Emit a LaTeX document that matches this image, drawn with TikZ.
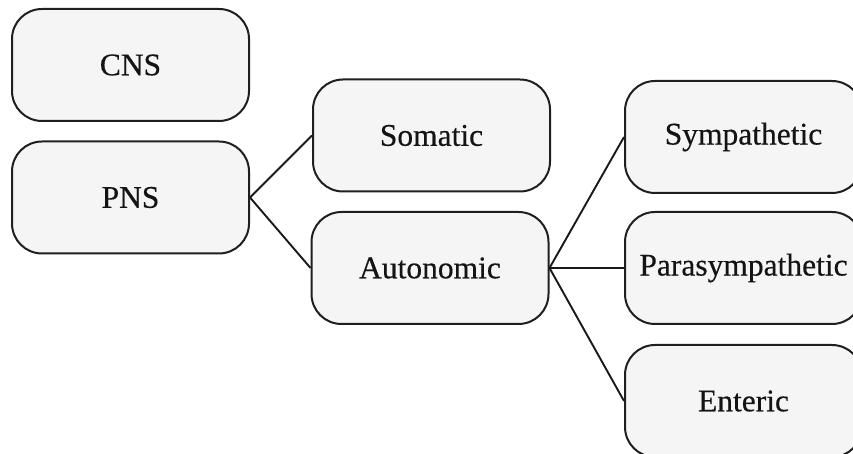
\documentclass[tikz,border=0pt]{standalone}
\usepackage{fontspec}
\setmainfont{Liberation Serif}
\newfontfamily\boxfont[FakeBold=0.4]{Liberation Serif}
\begin{document}
\begin{tikzpicture}[x=1pt,y=1pt,
  nsbox/.style={draw=black!88, line width=2pt, fill=black!4, rounded corners=30pt,
    minimum width=237pt, minimum height=112pt, inner sep=0pt,
    font=\boxfont\fontsize{31.5}{36}\selectfont, text=black!92},
  link/.style={draw=black!90, line width=1.9pt}]
\useasboundingbox (0,0) rectangle (853,454);
\clip (0,0) rectangle (853,454);
% left column
\node[nsbox] (cns) at (130.5,389) {CNS};
\node[nsbox] (pns) at (130.5,256.5) {PNS};
% middle column
\node[nsbox] (som) at (431.5,318.5) {Somatic};
\node[nsbox] (aut) at (430,186) {Autonomic};
% right column
\node[nsbox] (sym) at (743.5,317) {Sympathetic};
\node[nsbox] (par) at (743.5,186) {Parasympathetic};
\node[nsbox] (ent) at (743.5,53) {Enteric};
% branches
\draw[link] (pns.east) -- (som.west);
\draw[link] (pns.east) -- (aut.west);
\draw[link] (aut.east) -- (sym.west);
\draw[link] (aut.east) -- (par.west);
\draw[link] (aut.east) -- (ent.west);
\end{tikzpicture}
\end{document}
